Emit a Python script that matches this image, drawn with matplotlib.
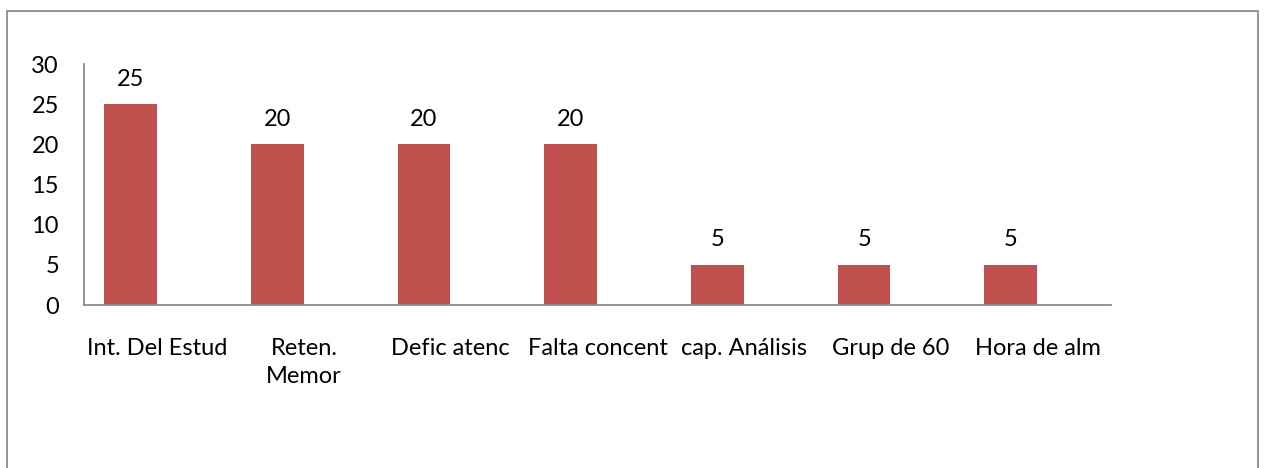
import matplotlib
matplotlib.use("Agg")
import matplotlib.pyplot as plt
from matplotlib.patches import Rectangle

categories = ["Int. Del Estud", "Reten.\nMemor", "Defic atenc", "Falta concent",
              "cap. Análisis", "Grup de 60", "Hora de alm"]
values = [25, 20, 20, 20, 5, 5, 5]
yticks = [0, 5, 10, 15, 20, 25, 30]

W, H = 1266, 468
fig = plt.figure(figsize=(W / 100, H / 100), dpi=100)
plt.rcParams['font.family'] = ['Lato', 'DejaVu Sans']
FS = 17

# outer chart border
fig.patches.append(Rectangle((7 / W, -0.01), (1258 - 7) / W, (H - 11) / H + 0.01,
                             transform=fig.transFigure, fill=False,
                             edgecolor='#8c8c8c', linewidth=1.3))

ax = fig.add_axes([84 / W, (H - 305) / H, 1027 / W, 241 / H])
x = list(range(len(categories)))
bx = [i - 0.183 for i in x]
ax.bar(bx, values, width=0.36, color='#C0504D', zorder=2)
for xi, v in zip(bx, values):
    ax.text(xi, v + 3.1, str(v), ha='center', va='center', fontsize=FS, color='black')

ax.set_xlim(-0.5, 6.5)
ax.set_ylim(0, 30)
ax.set_yticks(yticks)
ax.set_xticks(x)
ax.set_xticklabels(categories, fontsize=FS, linespacing=1.4)
ax.tick_params(axis='x', length=0, pad=24)
ax.tick_params(axis='y', length=0, pad=18, labelsize=FS)
for s in ['top', 'right']:
    ax.spines[s].set_visible(False)
for s in ['left', 'bottom']:
    ax.spines[s].set_color('#8c8c8c')
    ax.spines[s].set_linewidth(1.3)

fig.savefig("out.png", dpi=100)
